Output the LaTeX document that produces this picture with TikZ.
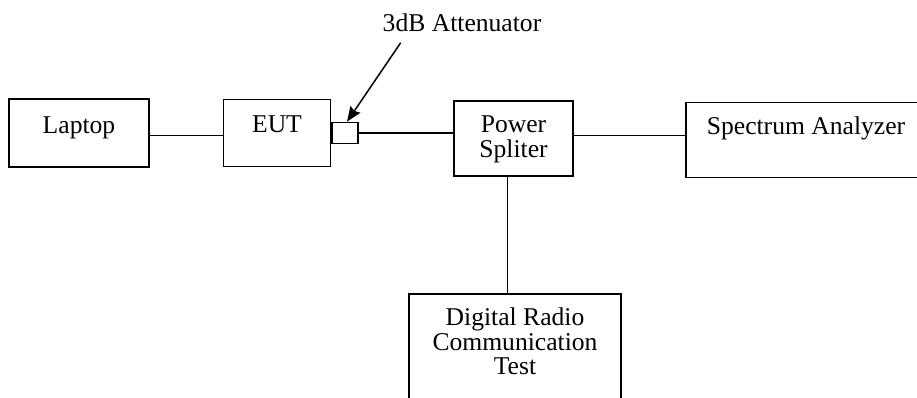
\documentclass[tikz,border=0pt]{standalone}
\usepackage{fontspec}
\setmainfont{Liberation Serif}
\usepackage{tikz}
\usetikzlibrary{arrows.meta,positioning}
\tikzstyle{Abox}=[draw,inner sep=0,align=center,line width=1.5pt]
\tikzstyle{Aatt}=[draw,inner sep=0,minimum width=26pt,minimum height=21pt,line width=1.5pt]
\tikzstyle{Alink}=[line width=1.5pt]
\tikzstyle{Apoint}=[->,>={Stealth[length=15pt,width=12pt,inset=2pt]},line width=1.5pt]
\tikzstyle{Atxt}=[font=\fontsize{25.6}{24.5}\selectfont]

\begin{document}
\begin{tikzpicture}[x=1pt,y=-1pt,Atxt]
  \useasboundingbox (0,0) rectangle (917,397);
  \clip (0,0) rectangle (917,397);
  	\node[Abox,minimum width=140pt,text height=34pt,text depth=34pt] (lap) at (79,133) {Laptop};
  	\node[Abox,minimum width=107pt,text height=33pt,text depth=34pt,right=73pt of lap] (eut) {EUT};
  	\node[Aatt,right=0pt of eut] (att) {};
  	\node[Abox,minimum width=119pt,text height=56pt,text depth=19pt] (spl) at (513.5,138.5) {Power\\Spliter};
  	\node[Abox,minimum width=240pt,text height=32pt,text depth=43pt] (spa) at (806,140.2) {Spectrum Analyzer};
  	\node[Abox,minimum width=212pt,text height=81pt,text depth=60pt,anchor=north] (drc) at (515,293) {Digital Radio\\Communication\\Test};
  	\node[anchor=base,inner sep=0] (attl) at (462,31.7) {3dB Attenuator};
  	\coordinate (attt) at (400.7,42.7);
  	\draw[Alink] ([yshift=-2.5pt]lap.east) -- ([yshift=-2.5pt]lap.east -| eut.west);
  	\draw[Alink] (att.east) -- (att.east -| spl.west);
  	\draw[Alink] ([yshift=2.8pt]spl.east) -- ([yshift=2.8pt]spl.east -| spa.west);
  	\draw[Alink] ([xshift=-6pt]spl.south) -- ([xshift=-6pt]spl.south |- drc.north);
  	\draw[Apoint] (attt) -- ([xshift=2pt]att.north);
\end{tikzpicture}
\end{document}
